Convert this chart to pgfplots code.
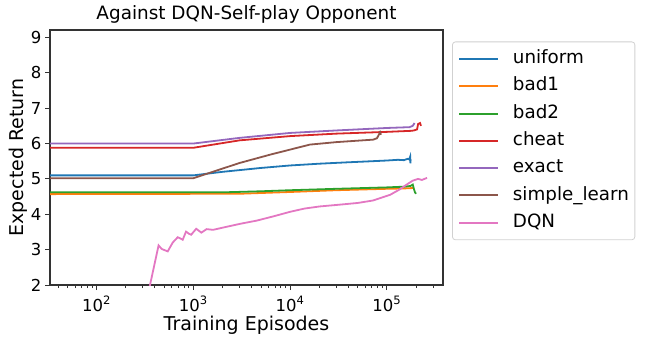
\documentclass[border=0pt]{standalone}
\usepackage{fontspec}
\setmainfont{DejaVu Sans}
\usepackage{pgfplots}
\pgfplotsset{compat=1.18}

\definecolor{tabblue}{HTML}{1F77B4}
\definecolor{taborange}{HTML}{FF7F0E}
\definecolor{tabgreen}{HTML}{2CA02C}
\definecolor{tabred}{HTML}{D62728}
\definecolor{tabpurple}{HTML}{9467BD}
\definecolor{tabbrown}{HTML}{8C564B}
\definecolor{tabpink}{HTML}{E377C2}

\begin{document}
\begin{tikzpicture}
\path[use as bounding box] (-50pt,-56pt) rectangle (597pt,285pt);
\begin{axis}[
  scale only axis,
  width=393pt, height=255pt,
  xmode=log,
  xmin=33, xmax=3.8e5,
  ymin=2, ymax=9.21,
  xtick={100,1000,10000,100000},
  xticklabels={10\textsuperscript{2},10\textsuperscript{3},10\textsuperscript{4},10\textsuperscript{5}},
  minor xtick={40,50,60,70,80,90,200,300,400,500,600,700,800,900,
    2000,3000,4000,5000,6000,7000,8000,9000,
    20000,30000,40000,50000,60000,70000,80000,90000,200000,300000},
  ytick={2,3,4,5,6,7,8,9},
  tick align=outside,
  tick pos=left,
  major tick length=5pt,
  minor tick length=3pt,
  tick style={line width=0.9pt, black!80},
  axis line style={line width=1.1pt, black!80},
  /pgf/number format/assume math mode=true,
  tick label style={font=\fontsize{16.5}{19}\selectfont},
  xticklabel style={anchor=base, yshift=-21pt},
  yticklabel style={anchor=east},
  title={Against DQN-Self-play Opponent},
  title style={font=\fontsize{18.4}{21}\selectfont, at={(0.5,1)}, anchor=base, yshift=4.5pt},
  xlabel={Training Episodes},
  xlabel style={font=\fontsize{19}{22}\selectfont, at={(0.5,0)}, anchor=base, yshift=-45pt},
  ylabel={Expected Return},
  ylabel style={font=\fontsize{19}{22}\selectfont, at={(axis description cs:-0.0687,0.5)}, anchor=base},
  legend cell align=left,
  legend style={at={(1.023,0.955)}, anchor=north west,
    draw=black!18, line width=0.8pt, rounded corners=3pt,
    font=\fontsize{18.3}{21}\selectfont,
    nodes={inner sep=0pt, text height=14pt, text depth=4.5pt},
    column sep=13.5pt, row sep=8.8pt, inner xsep=6pt, inner ysep=7.8pt},
  legend image code/.code={\draw[#1,line width=2pt] (0pt,0pt) -- (39pt,0pt);},
  every axis plot/.append style={line width=1.8pt},
]
% uniform
\addplot[tabblue] table {
x y
33 5.10
1000 5.10
2000 5.20
5000 5.31
10000 5.38
20000 5.43
40000 5.47
70000 5.50
100000 5.52
130000 5.54
150000 5.53
165000 5.57
170000 5.55
174000 5.63
175000 5.44
176000 5.55
};
\addlegendentry{uniform}
% bad1
\addplot[taborange] table {
x y
33 4.57
3000 4.58
10000 4.63
30000 4.68
100000 4.72
150000 4.73
180000 4.74
190000 4.75
};
\addlegendentry{bad1}
% bad2
\addplot[tabgreen] table {
x y
33 4.62
2000 4.62
5000 4.65
10000 4.68
30000 4.72
100000 4.76
150000 4.78
175000 4.80
185000 4.84
190000 4.72
195000 4.62
200000 4.58
};
\addlegendentry{bad2}
% cheat
\addplot[tabred] table {
x y
33 5.88
1000 5.88
3000 6.09
10000 6.21
30000 6.28
100000 6.33
180000 6.36
190000 6.37
205000 6.40
210000 6.55
220000 6.58
225000 6.50
};
\addlegendentry{cheat}
% exact
\addplot[tabpurple] table {
x y
33 6.00
1000 6.00
3000 6.16
10000 6.30
30000 6.37
100000 6.44
160000 6.46
170000 6.46
185000 6.50
193000 6.58
};
\addlegendentry{exact}
% simple_learn
\addplot[tabbrown] table {
x y
33 5.02
1000 5.02
3000 5.45
6300 5.69
16000 5.97
30000 6.04
72000 6.11
79000 6.15
85000 6.32
87000 6.25
};
\addlegendentry{simple\_learn}
% DQN
\addplot[tabpink] table {
x y
345 1.82
437 3.12
470 3.02
543 2.95
612 3.20
689 3.35
730 3.32
776 3.28
840 3.51
900 3.45
948 3.42
1070 3.59
1210 3.48
1370 3.58
1600 3.56
2000 3.62
3040 3.73
4500 3.82
6700 3.94
10000 4.07
14000 4.16
20000 4.22
32000 4.27
50000 4.32
72000 4.39
108000 4.55
135000 4.70
160000 4.84
185000 4.95
210000 5.00
230000 4.97
260000 5.03
};
\addlegendentry{DQN}
\end{axis}
\end{tikzpicture}
\end{document}
